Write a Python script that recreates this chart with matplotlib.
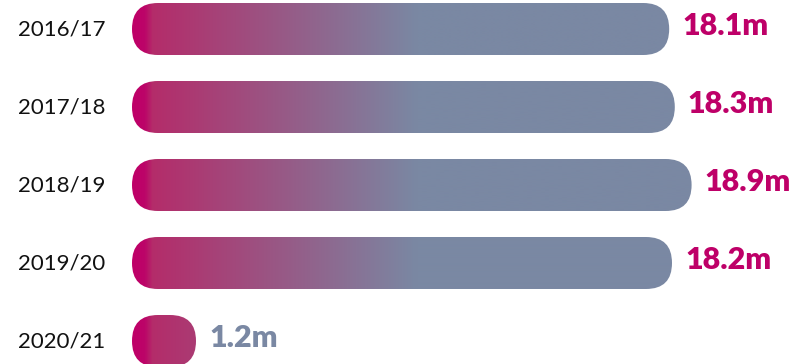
import numpy as np
import matplotlib
matplotlib.use("Agg")
import matplotlib.pyplot as plt
from matplotlib.patches import FancyBboxPatch
from matplotlib.colors import LinearSegmentedColormap
from matplotlib.transforms import blended_transform_factory

# ---- data ----
years = ["2016/17", "2017/18", "2018/19", "2019/20", "2020/21"]
values = [18.1, 18.3, 18.9, 18.2, 1.2]
value_labels = ["18.1m", "18.3m", "18.9m", "18.2m", "1.2m"]

MAGENTA = "#BE0068"
SLATE = "#7A88A3"
label_colors = [MAGENTA, MAGENTA, MAGENTA, MAGENTA, SLATE]

W, H, DPI = 798, 364, 100
fig = plt.figure(figsize=(W / DPI, H / DPI), dpi=DPI)
ax = fig.add_axes([0, 0, 1, 1])

PX_PER_UNIT_X = 28.0
PX_PER_UNIT_Y = 78.0
LEFT_PX = 132
TOP_PX = 29
x0 = -LEFT_PX / PX_PER_UNIT_X
x1 = (W - LEFT_PX) / PX_PER_UNIT_X
ax.set_xlim(x0, x1)
ax.set_ylim((H - TOP_PX) / PX_PER_UNIT_Y, -TOP_PX / PX_PER_UNIT_Y)
ax.axis("off")

bar_h = 52 / PX_PER_UNIT_Y
radius_x = 26 / PX_PER_UNIT_X
aspect = (26 / PX_PER_UNIT_Y) / radius_x
pad = 30.4 / PX_PER_UNIT_X

# gradient colormap along x (pixel offsets from bar start)
span = 300.0
stops = [
    (0.0, "#BF0068"),
    (12 / span, "#BC0468"),
    (20 / span, "#B42C6A"),
    (285 / span, SLATE),
    (1.0, SLATE),
]
cmap = LinearSegmentedColormap.from_list("grad", stops)
grad_x_end = span / PX_PER_UNIT_X
n = 600

for i, (v, lab, col) in enumerate(zip(values, value_labels, label_colors)):
    length = v + pad
    patch = FancyBboxPatch((0, i - bar_h / 2), length, bar_h,
                           boxstyle=f"round,pad=0,rounding_size={radius_x}",
                           mutation_aspect=aspect, linewidth=0,
                           facecolor="none", edgecolor="none")
    ax.add_patch(patch)
    ext_end = max(length, grad_x_end)
    m = int(n * ext_end / grad_x_end)
    xs = np.linspace(0, ext_end, m) / grad_x_end
    img = cmap(np.clip(xs, 0, 1))[None, :, :]
    im = ax.imshow(img, extent=(0, ext_end, i + bar_h / 2, i - bar_h / 2),
                   aspect="auto", interpolation="bilinear", zorder=2)
    im.set_clip_path(patch)
    ax.text(length + 13 / PX_PER_UNIT_X, i - 0.04, lab, color=col,
            fontsize=22, fontweight="heavy", family="Lato",
            ha="left", va="center", zorder=3)

trans = blended_transform_factory(ax.transAxes, ax.transData)
for i, y in enumerate(years):
    ax.text(18 / W, i, y, transform=trans, fontsize=16, color="#111111",
            family="Lato", fontweight="normal", ha="left", va="center")

fig.savefig("out.png", dpi=DPI)
